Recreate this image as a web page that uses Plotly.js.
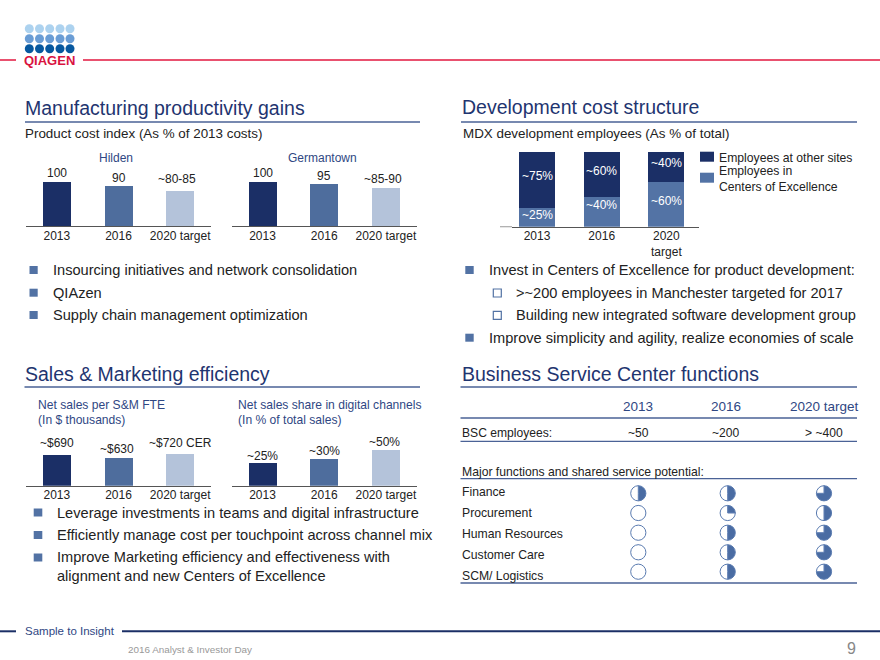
<!DOCTYPE html>
<html><head><meta charset="utf-8">
<script src="https://cdn.plot.ly/plotly-3.0.1.min.js"></script>
<style>html,body{margin:0;padding:0;background:#fff}#c{width:880px;height:660px}</style>
</head><body><div id="c"></div>
<script>
// ---------- data ----------
const years = ['2013','2016','2020 target'];
const yearsStacked = ['2013','2016','2020<br>target'];
const hildenValues = [100,90,80];
const hildenLabels = ['100','90','~80-85'];
const germantownValues = [100,95,85];
const germantownLabels = ['100','95','~85-90'];
const salesPerFteValues = [690,630,720];
const salesPerFteLabels = ['~$690','~$630','~$720 CER'];
const digitalShareValues = [25,30,40];
const digitalShareLabels = ['~25%','~30%','~50%'];
const excellenceValues = [25,40,60];
const otherSitesValues = [75,60,40];
const excellenceLabels = ['~25%','~40%','~60%'];
const otherSitesLabels = ['~75%','~60%','~40%'];
const seriesNames = ['Employees at other sites','Employees in<br>Centers of Excellence'];
const bscYears = ['2013','2016','2020 target'];
const bscEmployees = ['~50','~200','> ~400'];
const functionNames = ['Finance','Procurement','Human Resources','Customer Care','SCM/ Logistics'];
const potential2013 = [0.5,0,0,0,0];
const potential2016 = [0.5,0.25,0.5,0.5,0.5];
const potential2020 = [0.75,0.5,0.75,0.75,0.75];
const bulletsMfg = ['Insourcing initiatives and network consolidation','QIAzen','Supply chain management optimization'];
const bulletsDev = ['Invest in Centers of Excellence for product development:','>~200 employees in Manchester targeted for 2017','Building new integrated software development group','Improve simplicity and agility, realize economies of scale'];
const bulletsSales = ['Leverage investments in teams and digital infrastructure','Efficiently manage cost per touchpoint across channel mix','Improve Marketing efficiency and effectiveness with<br>alignment and new Centers of Excellence'];

// ---------- styling ----------
const W=880,H=660,FONT='"Liberation Sans", Arial, sans-serif';
const NAVY='#1b2f66',MID='#4e6d9d',PALE='#b4c3da',TITLE='#1f3570',LABEL='#2f4783',INK='#222222',BUL='#5272a4',RULE='#4a6296';
const fx=p=>p/W, fy=p=>1-p/H;
const ann=[],shp=[],traces=[],layout={};

function note(text,x,y,size,color,anchor,extra){
  const a=anchor||'left';
  ann.push(Object.assign({text,x:fx(a==='left'?x-1.2:x),y:fy(y),xref:'paper',yref:'paper',xanchor:a,yanchor:'middle',
    showarrow:false,borderpad:0,align:a,font:{family:FONT,size,color}},extra||{}));
}
function rule(x0,x1,y,color,w){shp.push({type:'line',xref:'paper',yref:'paper',x0:fx(x0),x1:fx(x1),y0:fy(y),y1:fy(y),line:{color,width:w}});}
function box(x0,x1,y0,y1,fill,line){shp.push({type:'rect',xref:'paper',yref:'paper',x0:fx(x0),x1:fx(x1),y0:fy(y0),y1:fy(y1),fillcolor:fill,line:line?{color:line,width:1.2}:{width:0}});}
function dot(cx,cy,r,fill){shp.push({type:'circle',xref:'paper',yref:'paper',x0:fx(cx-r),x1:fx(cx+r),y0:fy(cy-r),y1:fy(cy+r),fillcolor:fill,line:{width:0}});}

function axes(n,left,right,top,base,yr,xr,cats){
  const s=n===1?'':String(n);
  layout['xaxis'+s]={domain:[fx(left),fx(right)],anchor:'y'+s,type:'category',range:xr||[-0.5,2.5],fixedrange:true,
    showgrid:false,zeroline:false,showline:true,linecolor:'#555',linewidth:1.3,ticks:'',categoryorder:'array',categoryarray:cats||years,
    tickfont:{family:FONT,size:12,color:INK},automargin:false,ticklabelstandoff:-2};
  layout['yaxis'+s]={domain:[fy(base),fy(top)],anchor:'x'+s,range:yr,visible:false,fixedrange:true};
  return {x:'x'+s,y:'y'+s};
}
function simpleChart(n,left,right,top,base,maxV,vals,labels,dxs,shifts,name){
  const a=axes(n,left,right,top,base,[0,maxV]);
  traces.push({type:'bar',name,x:years,y:vals,xaxis:a.x,yaxis:a.y,marker:{color:[NAVY,MID,PALE]},width:0.454,hoverinfo:'skip',showlegend:false});
  labels.forEach((t,i)=>ann.push({text:t,x:i,y:vals[i],xref:a.x,yref:a.y,xanchor:'center',yanchor:'middle',yshift:shifts[i],xshift:dxs[i],
    showarrow:false,borderpad:0,font:{family:FONT,size:12,color:INK}}));
}

// ---------- charts ----------
simpleChart(1,26,211,181.8,226,100,hildenValues,hildenLabels,[0,0,-3.5],[9,8.3,12],'Hilden');
simpleChart(2,231.7,416.7,181.8,226,100,germantownValues,germantownLabels,[0,0,-3],[9,7.7,9.6],'Germantown');
simpleChart(3,26,211,440,485.7,1030,salesPerFteValues,salesPerFteLabels,[0,-2,0],[12.3,8.7,10.7],'Net sales per S&M FTE');
simpleChart(4,231.7,416.7,440,485.7,51.2,digitalShareValues,digitalShareLabels,[0,0,-1.3],[7.3,8.3,8.3],'Net sales share in digital channels');

const st=axes(5,512,698.7,151.7,226.7,[0,100],[-0.387,2.5],yearsStacked);
traces.push({type:'bar',name:'Employees in Centers of Excellence',x:yearsStacked,y:excellenceValues,xaxis:st.x,yaxis:st.y,marker:{color:'#5373a5'},width:0.556,hoverinfo:'skip',showlegend:false});
traces.push({type:'bar',name:'Employees at other sites',x:yearsStacked,y:otherSitesValues,xaxis:st.x,yaxis:st.y,marker:{color:NAVY},width:0.556,hoverinfo:'skip',showlegend:false});
layout.barmode='stack';
const lowShift=[2.5,7,3], upShift=[3.5,3,4];
excellenceLabels.forEach((t,i)=>ann.push({text:t,x:i,y:excellenceValues[i]/2,xref:st.x,yref:st.y,yanchor:'middle',xanchor:'center',yshift:lowShift[i],showarrow:false,borderpad:0,font:{family:FONT,size:12,color:'#fff'}}));
otherSitesLabels.forEach((t,i)=>ann.push({text:t,x:i,y:excellenceValues[i]+otherSitesValues[i]/2,xref:st.x,yref:st.y,yanchor:'middle',xanchor:'center',yshift:upShift[i],showarrow:false,borderpad:0,font:{family:FONT,size:12,color:'#fff'}}));
rule(500,512,226.7,'#aaaaaa',1.2);

// legend
box(700,714,151.7,161.7,NAVY); box(700,714,172.7,182.7,'#5373a5');
note(seriesNames[0],719,157.5,12.2,INK); note(seriesNames[1],719,179,12.2,INK);

// Harvey balls
const ballX=[638.3,727.7,824], ballY=[493.3,513,532.7,552.3,571.7], ballR=7.6;
[potential2013,potential2016,potential2020].forEach((col,c)=>col.forEach((v,r)=>{
  traces.push({type:'pie',values:[v,1-v],sort:false,direction:'clockwise',rotation:0,textinfo:'none',hoverinfo:'skip',showlegend:false,
    marker:{colors:['#4a6ca3','#ffffff'],line:{color:'#5a7bb0',width:1}},
    domain:{x:[fx(ballX[c]-ballR),fx(ballX[c]+ballR)],y:[fy(ballY[r]+ballR),fy(ballY[r]-ballR)]}});
}));

// ---------- page furniture ----------
const logoRows=[['#acd2ef',28.7],['#6a9dd5',38.7],['#07589f',48.7]];
logoRows.forEach(([c,y])=>[29.3,39.5,49.7,60,70].forEach(x=>dot(x,y,4.5,c)));
note('QIAGEN',49.3,60,13,'#d9133f','center',{font:{family:FONT,size:13,color:'#d9133f',weight:700}});
rule(0,16,60,'#e2173f',1.5); rule(83,880,60,'#e2173f',1.5);

note('Manufacturing productivity gains',25,108,19.5,TITLE); rule(25,420,122,RULE,1.5);
note('Development cost structure',461.7,107.5,19.5,TITLE); rule(461,857,122,RULE,1.5);
note('Sales & Marketing efficiency',25,374.3,19.5,TITLE); rule(24.5,420,387,RULE,1.5);
note('Business Service Center functions',461.7,374.3,19.5,TITLE); rule(460.5,857,387,RULE,1.5);

note('Product cost index (As % of 2013 costs)',25,133.7,13.4,INK);
note('MDX development employees (As % of total)',462.7,134,13.4,INK);
note('Hilden',115.7,157.7,12,LABEL,'center'); note('Germantown',322,157.7,12,LABEL,'center');
note('Net sales per S&M FTE',38,405,12.1,LABEL); note('(In $ thousands)',38,419.7,12.1,LABEL);
note('Net sales share in digital channels',238.3,405,12.1,LABEL); note('(In % of total sales)',238.3,419.7,12.1,LABEL);

[270,292.7,315].forEach((y,i)=>{box(29.5,37.7,y-4,y+4,BUL,null);note(bulletsMfg[i],52.7,y,14.6,INK);});
[[270,465.3,488.7,0],[293,493.3,516.3,1],[315.3,493.3,516.3,2],[337.7,465.3,488.7,3]].forEach(([y,bx,tx,i])=>{
  if(bx<480) box(bx,bx+8.4,y-4,y+4,BUL,null); else box(bx,bx+8,y-4,y+4,'#ffffff',BUL);
  note(bulletsDev[i],tx,y,14.6,INK);
});
[512.5,535,557.5].forEach((y,i)=>box(33.7,42.3,y-4,y+4,BUL,null));
note(bulletsSales[0],56.7,512.7,14.6,INK); note(bulletsSales[1],56.7,535,14.6,INK);
note(bulletsSales[2],56.7,566.3,14.6,INK,'left');

// table
const headX=[638,726,824.7], empX=[638.3,726,824.3];
bscYears.forEach((t,i)=>note(t,headX[i],406,13.5,LABEL,'center'));
rule(460.5,857,418,RULE,1.3);
note('BSC employees:',462,432.7,12.1,INK);
bscEmployees.forEach((t,i)=>note(t,empX[i],432.7,12.1,INK,'center'));
rule(460.5,857,441.3,RULE,1.3);
note('Major functions and shared service potential:',462,471.7,12.2,INK);
rule(460.5,857,478.7,RULE,1.3);
[492.3,513,533.7,554.7,575.7].forEach((y,i)=>note(functionNames[i],462,y,12.2,INK));
rule(460.5,857,583,RULE,1.5);

// footer
rule(0,16,631.3,NAVY,2); rule(122,880,631.3,NAVY,2);
note('Sample to Insight',25,631,11.5,LABEL);
note('2016 Analyst & Investor Day',128.5,649,9.9,'#999999');
note('9',851.7,648.3,16,'#888888','center');

Object.assign(layout,{width:W,height:H,margin:{l:0,r:0,t:0,b:0,pad:0},paper_bgcolor:'#fff',plot_bgcolor:'rgba(0,0,0,0)',
  showlegend:false,annotations:ann,shapes:shp,font:{family:FONT}});
Plotly.newPlot('c',traces,layout,{displayModeBar:false,staticPlot:true});
</script></body></html>
